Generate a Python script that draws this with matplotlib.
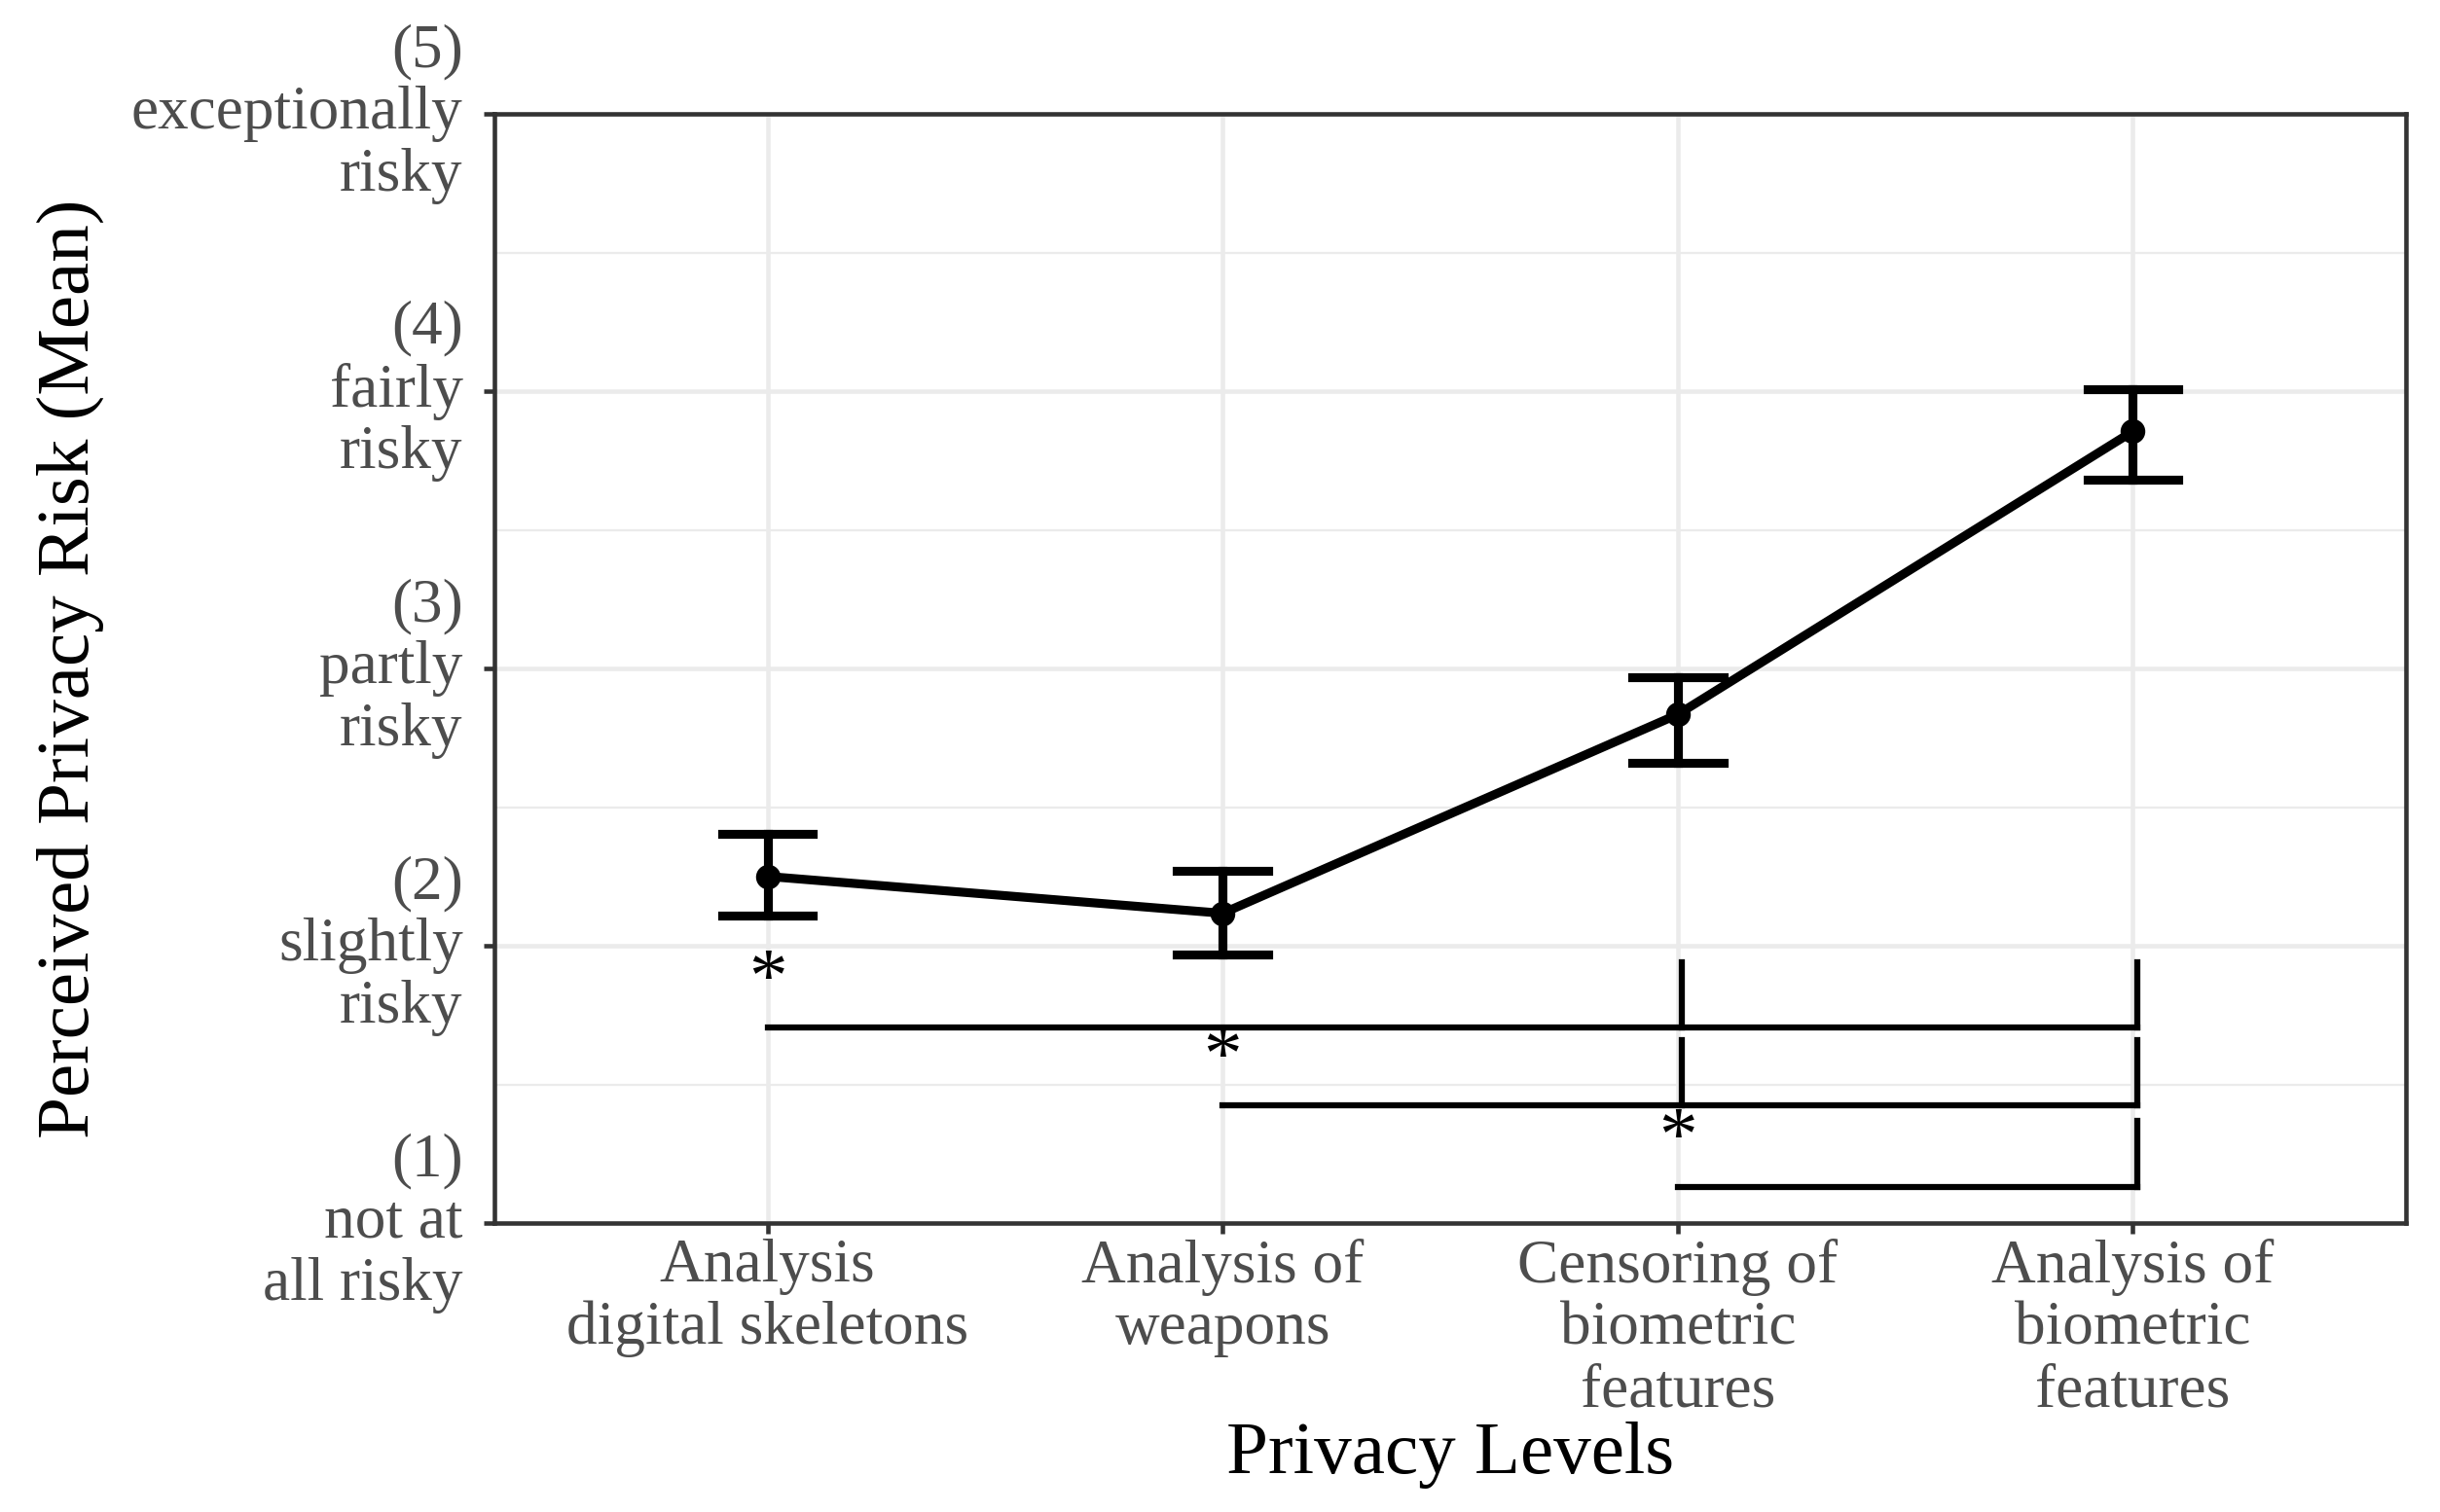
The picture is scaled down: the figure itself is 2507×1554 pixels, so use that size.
import matplotlib
matplotlib.use("Agg")
import matplotlib.pyplot as plt
from matplotlib.ticker import MultipleLocator

plt.rcParams['font.family'] = ['Liberation Serif', 'DejaVu Serif']

categories = ["Analysis\ndigital skeletons", "Analysis of\nweapons",
              "Censoring of\nbiometric\nfeatures", "Analysis of\nbiometric\nfeatures"]
means = [2.25, 2.117, 2.834, 3.855]
err_low = [2.11, 1.97, 2.66, 3.68]
err_high = [2.405, 2.27, 2.97, 4.007]

y_ticks = [1, 2, 3, 4, 5]
y_labels = ["(1)\nnot at\nall risky", "(2)\nslightly\nrisky", "(3)\npartly\nrisky",
            "(4)\nfairly\nrisky", "(5)\nexceptionally\nrisky"]

# significance brackets: (start, end, y_line, y_tick_top, inner ticks)
br_start = [1, 2, 3]
br_end = [4, 4, 4]
br_y = [1.705, 1.423, 1.13]
br_top = [1.942, 1.66, 1.37]
br_ticks = [[3, 4], [3, 4], [4]]

W, H, DPI = 2507, 1554, 300
fig = plt.figure(figsize=(W / DPI, H / DPI), dpi=DPI)
ax = fig.add_axes([508 / W, 1 - 1257 / H, (2472 - 508) / W, (1257 - 117) / H])

x = list(range(1, len(categories) + 1))

grid_c = "#EBEBEB"
ax.set_axisbelow(True)
ax.yaxis.set_minor_locator(MultipleLocator(0.5))
ax.grid(which='major', color=grid_c, linewidth=1.1)
ax.grid(which='minor', axis='y', color=grid_c, linewidth=0.55)
ax.tick_params(which='minor', length=0)

ax.plot(x, means, color='black', linewidth=2.2, zorder=3)
ax.scatter(x, means, color='black', s=26, zorder=4)
for xi, lo, hi in zip(x, err_low, err_high):
    ax.plot([xi, xi], [lo, hi], color='black', linewidth=2.2, zorder=3)
    ax.plot([xi - 0.1, xi + 0.1], [lo, lo], color='black', linewidth=2.2, zorder=3)
    ax.plot([xi - 0.1, xi + 0.1], [hi, hi], color='black', linewidth=2.2, zorder=3)

for s, e, yl, yt, tks in zip(br_start, br_end, br_y, br_top, br_ticks):
    ax.plot([s, e + 0.01], [yl, yl], color='black', linewidth=1.5, zorder=3)
    for t in tks:
        ax.plot([t + 0.01, t + 0.01], [yl, yt], color='black', linewidth=1.5, zorder=3)
    ax.text(s, yl + 0.10, "*", ha='center', va='baseline', fontsize=19, color='black')

ax.set_xlim(0.4, 4.6)
ax.set_ylim(1, 5)
ax.set_xticks(x)
ax.set_xticklabels(categories, fontsize=15.2, color='#4D4D4D', linespacing=1.13)
ax.set_yticks(y_ticks)
ax.set_yticklabels(y_labels, fontsize=15.2, color='#4D4D4D', linespacing=1.13,
                   va='center', ha='right')
ax.tick_params(which='major', length=2.75, width=1.1, color='#333333')
ax.tick_params(axis='x', pad=1.0)
ax.tick_params(axis='y', pad=5.0)

for sp in ax.spines.values():
    sp.set_color('#333333')
    sp.set_linewidth(1.1)

ax.set_xlabel("Privacy Levels", fontsize=18.5, labelpad=0.5)
ax.set_ylabel("Perceived Privacy Risk (Mean)", fontsize=18.5, labelpad=6.6)

fig.savefig("out.png", dpi=DPI)
